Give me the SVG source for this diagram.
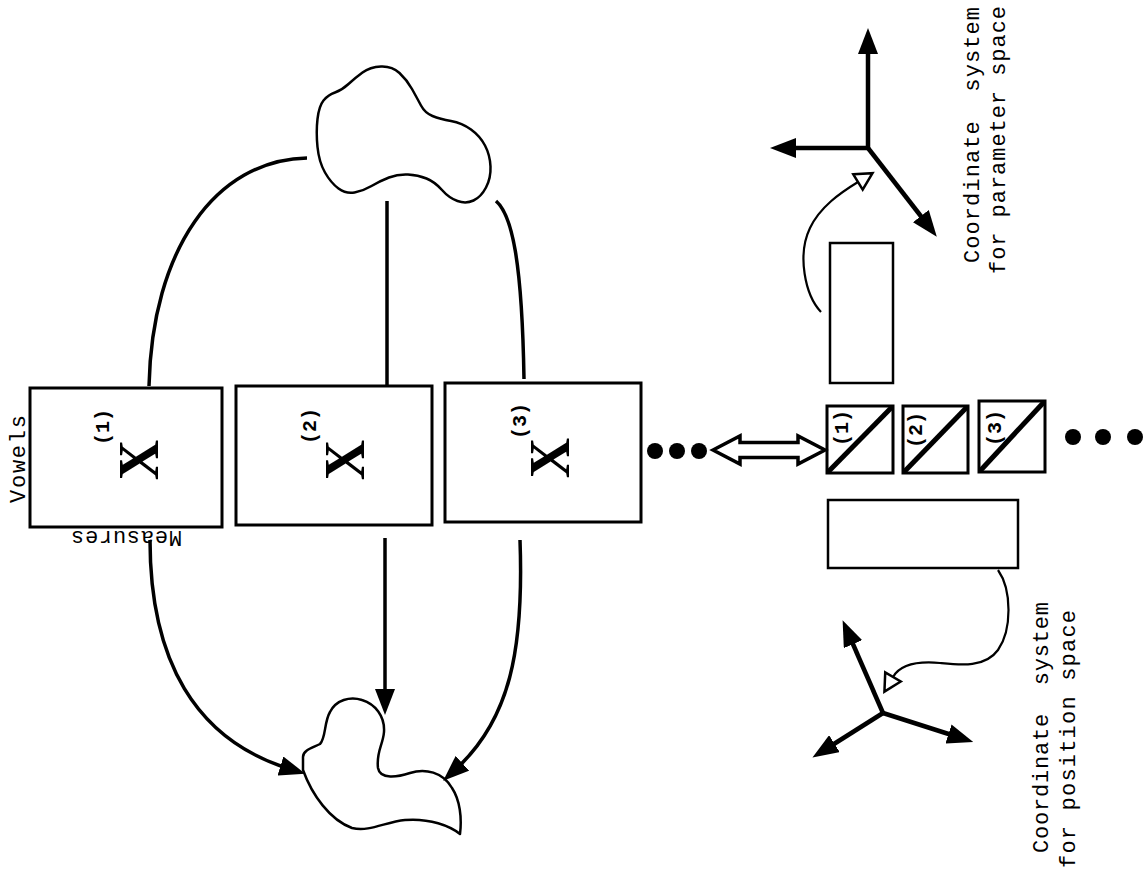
<svg xmlns="http://www.w3.org/2000/svg" width="1144" height="877" viewBox="0 0 1144 877">
  <style>
    .bg { fill: #ffffff; }
    .box { fill: none; stroke: #000; stroke-width: 3; }
    .sbox { fill: none; stroke: #000; stroke-width: 3; }
    .rect { fill: none; stroke: #000; stroke-width: 2.5; }
    .diag { stroke: #000; stroke-width: 5; }
    .blob { fill: none; stroke: #000; stroke-width: 2.5; stroke-linejoin: round; }
    .conn { fill: none; stroke: #000; stroke-width: 3.5; }
    .axis { fill: none; stroke: #000; stroke-width: 4.5; }
    .thin { fill: none; stroke: #000; stroke-width: 2.2; }
    .dot { fill: #000; }
    .lbl { font-family: "Liberation Mono", "DejaVu Sans Mono", monospace; font-size: 22px; fill: #000; }
    .num { font-family: "Liberation Mono", "DejaVu Sans Mono", monospace; font-size: 20px; font-weight: bold; fill: #000; }
    .xg { font-family: "Liberation Serif", "DejaVu Serif", serif; font-size: 56px; font-weight: bold; fill: #000; }
  </style>
  <defs>
    <marker id="ah" viewBox="0 0 26 20" refX="10" refY="10" markerWidth="26" markerHeight="20" orient="auto" markerUnits="userSpaceOnUse">
      <path d="M0,0 L26,10 L0,20 Z" fill="#000"/>
    </marker>
    <marker id="hollow" viewBox="0 0 20 20" refX="2" refY="10" markerWidth="20" markerHeight="20" orient="auto" markerUnits="userSpaceOnUse" overflow="visible">
      <path d="M2,1 L19,10 L2,19 Z" fill="#fff" stroke="#000" stroke-width="2.5" stroke-linejoin="miter"/>
    </marker>
  </defs>

  <rect class="bg" x="0" y="0" width="1144" height="877"/>

  <!-- source cloud (top) -->
  <g id="cloud-top">
    <path class="blob" d="M362.5,72.5 Q370,67 381,66.5 Q392,66 399.5,73 Q407,80 412,89 Q417,98 421,105.5 Q425,113 432.5,116 Q440,119 451,121 Q462,123 471,129.5 Q480,136 485,145.5 Q490,155 490.5,166.5 Q491,178 486,187.5 Q481,197 473.5,200.5 Q466,204 457.5,201 Q449,198 442,190 Q435,182 426.5,178.5 Q418,175 408,174.5 Q398,174 389,177.5 Q380,181 371.5,186 Q363,191 354.5,192.5 Q346,194 338.5,188.5 Q331,183 325,172.5 Q319,162 317.5,147 Q316,132 317.5,119 Q319,106 323.5,100.5 Q328,95 335,92.5 Q342,90 348.5,84 Q355,78 362.5,72.5 Z"/>
  </g>

  <!-- target blob (bottom) -->
  <g id="cloud-bottom">
    <path class="blob" d="M303,757 C303,750 312,748 320,744 C326,738 324,722 330,712 C336,700 350,696 362,700 C375,704 385,716 384,732 C383,745 376,752 378,768 C380,780 398,777 410,773 C425,768 443,772 452,788 C460,800 462,818 460,834 C450,826 430,818 405,820 C385,822 370,832 352,828 C330,820 312,795 303,770 Z"/>
  </g>

  <!-- measure/vowel frames -->
  <g id="frame-1">
    <rect class="box" x="30" y="388" width="192" height="139"/>
    <text class="lbl" transform="translate(25,503) rotate(-90)" textLength="88" lengthAdjust="spacing">Vowels</text>
    <text class="lbl" transform="translate(182,531) rotate(180)" textLength="111" lengthAdjust="spacing">Measures</text>
    <text class="num" transform="translate(109,445) rotate(-90)">(1)</text>
    <text class="xg" transform="translate(139,460) rotate(-90)" text-anchor="middle" dominant-baseline="central">X</text>
  </g>
  <g id="frame-2">
    <rect class="box" x="236" y="386" width="196" height="139"/>
    <text class="num" transform="translate(316,444) rotate(-90)">(2)</text>
    <text class="xg" transform="translate(345,460) rotate(-90)" text-anchor="middle" dominant-baseline="central">X</text>
  </g>
  <g id="frame-3">
    <rect class="box" x="445" y="383" width="196" height="139"/>
    <text class="num" transform="translate(526,439) rotate(-90)">(3)</text>
    <text class="xg" transform="translate(550,458) rotate(-90)" text-anchor="middle" dominant-baseline="central">X</text>
  </g>
  <g id="ellipsis-left">
    <circle class="dot" cx="655" cy="451" r="8"/>
    <circle class="dot" cx="677" cy="451" r="8"/>
    <circle class="dot" cx="699" cy="451" r="8"/>
  </g>

  <!-- correspondence arrow -->
  <g id="double-arrow">
    <path d="M713,450 L740,436 L740,442.5 L798,442.5 L798,436 L825,450 L798,464 L798,457.5 L740,457.5 L740,464 Z" fill="#fff" stroke="#000" stroke-width="3.5" stroke-linejoin="miter"/>
  </g>

  <!-- cell sequence -->
  <g id="cell-1">
    <rect class="sbox" x="827" y="406" width="66" height="67"/>
    <line class="diag" x1="828" y1="472" x2="892" y2="407"/>
    <text class="num" transform="translate(848,446) rotate(-90)">(1)</text>
  </g>
  <g id="cell-2">
    <rect class="sbox" x="903" y="406" width="65" height="67"/>
    <line class="diag" x1="904" y1="472" x2="967" y2="407"/>
    <text class="num" transform="translate(922,448) rotate(-90)">(2)</text>
  </g>
  <g id="cell-3">
    <rect class="sbox" x="979" y="401" width="66" height="71"/>
    <line class="diag" x1="980" y1="471" x2="1044" y2="402"/>
    <text class="num" transform="translate(1001,446) rotate(-90)">(3)</text>
  </g>
  <g id="ellipsis-right">
    <circle class="dot" cx="1073" cy="437" r="8"/>
    <circle class="dot" cx="1103" cy="437" r="8"/>
    <circle class="dot" cx="1135" cy="437" r="8"/>
  </g>

  <g id="param-block">
    <rect class="rect" x="830" y="243" width="63" height="140"/>
  </g>
  <g id="position-block">
    <rect class="rect" x="828" y="500" width="190" height="68"/>
  </g>

  <!-- parameter-space axes -->
  <g id="param-axes">
    <line class="axis" x1="868" y1="148" x2="868" y2="44" marker-end="url(#ah)"/>
    <line class="axis" x1="868" y1="148" x2="786" y2="148" marker-end="url(#ah)"/>
    <line class="axis" x1="868" y1="148" x2="927" y2="224" marker-end="url(#ah)"/>
    <text class="lbl" xml:space="preserve" transform="translate(979,263) rotate(-90)" textLength="256" lengthAdjust="spacing">Coordinate  system</text>
    <text class="lbl" transform="translate(1005,274) rotate(-90)" textLength="268" lengthAdjust="spacing">for parameter space</text>
  </g>

  <!-- position-space axes -->
  <g id="position-axes">
    <line class="axis" x1="883" y1="713" x2="849" y2="635" marker-end="url(#ah)"/>
    <line class="axis" x1="883" y1="713" x2="826" y2="749" marker-end="url(#ah)"/>
    <line class="axis" x1="883" y1="713" x2="958" y2="737" marker-end="url(#ah)"/>
    <text class="lbl" xml:space="preserve" transform="translate(1048,853) rotate(-90)" textLength="251" lengthAdjust="spacing">Coordinate  system</text>
    <text class="lbl" transform="translate(1075,868) rotate(-90)" textLength="258" lengthAdjust="spacing">for position space</text>
  </g>

  <!-- connectors -->
  <g id="connectors">
    <path class="conn" d="M149,386 C152,250 215,160 307,158"/>
    <path class="conn" d="M387,201 L387,385"/>
    <path class="conn" d="M496,201 C512,215 522,260 524,379"/>
    <path class="conn" d="M150,540 C150,660 195,740 290,769" marker-end="url(#ah)"/>
    <path class="conn" d="M385,538 L385,699" marker-end="url(#ah)"/>
    <path class="conn" d="M520,540 C524,650 510,720 455,770" marker-end="url(#ah)"/>
    <path class="thin" d="M821,312 C805,295 797,255 810,228 C820,207 840,193 858,182" marker-end="url(#hollow)"/>
    <path class="thin" d="M998,570 C1012,590 1012,630 998,650 C985,668 960,665 940,663 C918,661 900,665 893,677" marker-end="url(#hollow)"/>
  </g>
</svg>
